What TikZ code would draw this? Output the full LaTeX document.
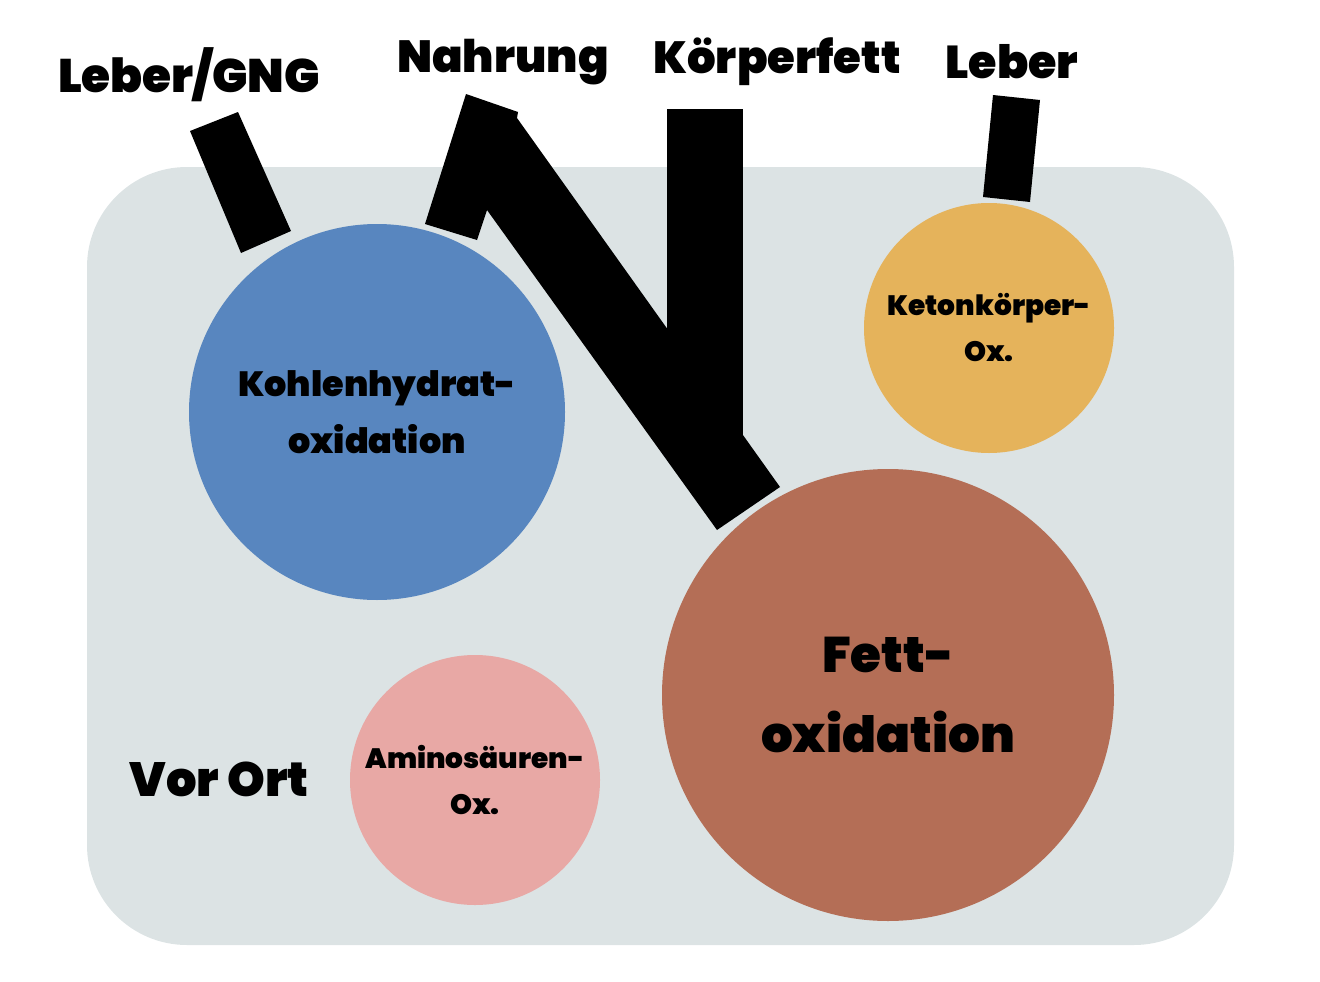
\documentclass[tikz,border=0pt]{standalone}
\usepackage{fontspec}
\newfontfamily\heavy{Poppins Black}
\definecolor{bgbox}{HTML}{DCE3E4}
\definecolor{cblue}{HTML}{5886BF}
\definecolor{corange}{HTML}{E5B35B}
\definecolor{cpink}{HTML}{E8A8A5}
\definecolor{cbrown}{HTML}{B46E56}
\begin{document}
\begin{tikzpicture}[x=1pt,y=-1pt,
  blob/.style={circle,inner sep=0pt,align=center,text=black},
  lbl/.style={inner sep=0pt,text=black,font=\heavy\fontsize{45}{50}\selectfont},
  bar/.style={fill=black,draw=none}]
\useasboundingbox (0,0) rectangle (1320,982);
% background box
\fill[bgbox,rounded corners=100pt] (87,167) rectangle (1234,945);
% circles
\node[blob,fill=cblue,minimum size=376pt,font=\heavy\fontsize{35}{57}\selectfont] (kh) at (377,412) {Kohlenhydrat-\\oxidation};
\node[blob,fill=corange,minimum size=250pt,font=\heavy\fontsize{28}{46}\selectfont] (ket) at (989,328) {Ketonkörper-\\Ox.};
\node[blob,fill=cpink,minimum size=250pt,font=\heavy\fontsize{28}{46}\selectfont] (ami) at (475,780) {Aminosäuren-\\Ox.};
\node[blob,fill=cbrown,minimum size=452pt,font=\heavy\fontsize{50}{80}\selectfont] (fett) at (888,695) {Fett-\\oxidation};
% labels
\node[lbl,font=\heavy\fontsize{47}{50}\selectfont] (gng) at (189,75) {Leber/GNG};
\node[lbl] (nahr) at (503,62) {Nahrung};
\node[lbl] (kf) at (777,62) {Körperfett};
\node[lbl,font=\heavy\fontsize{46}{50}\selectfont] (leb) at (1012,62) {Leber};
\node[lbl,font=\heavy\fontsize{48}{50}\selectfont] (ort) at (219,779) {Vor Ort};
% bars
\fill[bar] (190,131) -- (238,112) -- (291,231) -- (241,253) -- cycle;
\fill[bar] (466,94) -- (518,112) -- (517,118) -- (780,487) -- (717,530) -- (487,210) -- (477,240) -- (425,224) -- cycle;
\fill[bar] (667,109) rectangle (743,440);
\fill[bar] (993,95) -- (1040,100) -- (1030,202) -- (983,197) -- cycle;
\end{tikzpicture}
\end{document}
